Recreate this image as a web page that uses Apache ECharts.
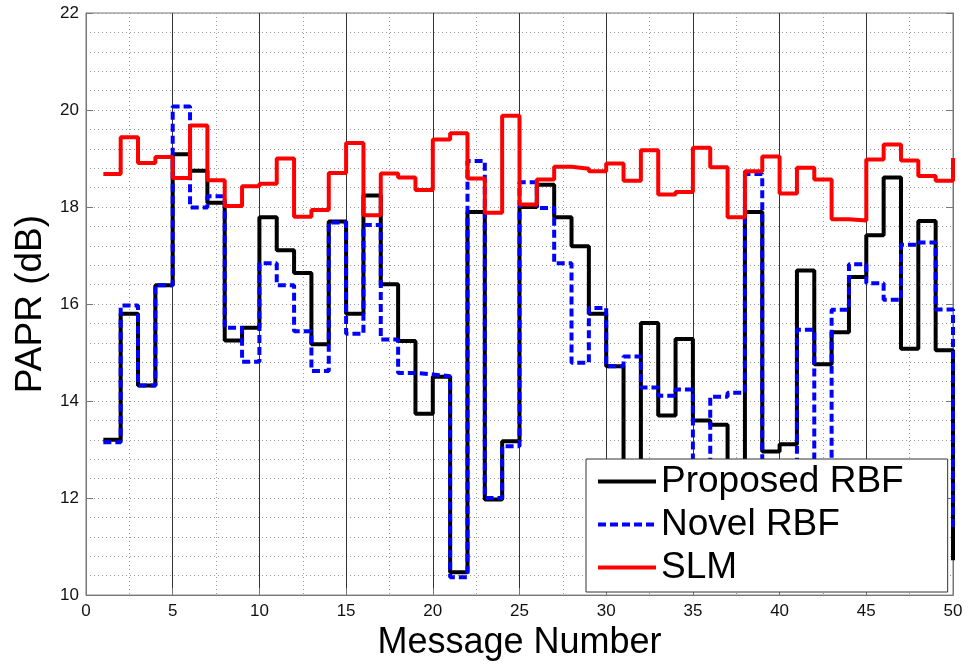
<!DOCTYPE html>
<html>
<head>
<meta charset="utf-8">
<script src="https://cdn.jsdelivr.net/npm/echarts@6/dist/echarts.min.js"></script>
<style>
html,body{margin:0;padding:0;background:#fff;}
#c{width:969px;height:666px;}
</style>
</head>
<body>
<div id="c"></div>
<script>
const messageNumber = [1,2,3,4,5,6,7,8,9,10,11,12,13,14,15,16,17,18,19,20,21,22,23,24,25,26,27,28,29,30,31,32,33,34,35,36,37,38,39,40,41,42,43,44,45,46,47,48,49,50];

const proposedRBF = [13.20,15.80,14.32,16.39,19.09,18.75,18.09,15.25,15.51,17.79,
                     17.11,16.64,15.17,17.70,15.80,18.24,16.41,15.24,13.74,14.50,
                     10.47,17.90,11.97,13.17,18.00,18.46,17.79,17.19,15.80,14.72,
                     12.20,15.61,13.70,15.28,13.60,13.51,12.30,17.90,12.96,13.11,
                     16.69,14.76,15.42,16.56,17.42,18.61,15.08,17.71,15.05,10.72];

const novelRBF = [13.15,15.97,14.32,16.39,20.07,17.99,18.22,15.51,14.81,16.84,
                  16.39,15.44,14.62,17.68,15.39,17.63,15.27,14.58,14.55,14.51,
                  10.37,18.95,12.00,13.07,18.51,17.98,16.84,14.79,15.92,14.72,
                  14.92,14.28,14.11,14.24,12.60,14.09,14.17,18.68,12.50,12.40,
                  15.47,12.20,15.88,16.82,16.43,16.09,17.22,17.27,15.89,11.40];

const slm = [18.68,19.44,18.91,19.03,18.60,19.68,18.55,18.02,18.43,18.48,
             19.00,17.80,17.94,18.70,19.32,17.83,18.69,18.61,18.35,19.39,
             19.52,18.59,17.88,19.88,18.05,18.57,18.83,18.79,18.74,18.90,
             18.54,19.17,18.26,18.31,19.22,18.82,17.79,18.74,19.04,18.28,
             18.81,18.57,17.75,17.72,18.98,19.29,18.96,18.64,18.54,19.01];

const seriesNames = ['Proposed RBF', 'Novel RBF', 'SLM'];
const xAxisTitle = 'Message Number';
const yAxisTitle = 'PAPR (dB)';

function pairs(ys) { return messageNumber.map(function (x, i) { return [x, ys[i]]; }); }

const FONT = '"Liberation Sans", Arial, Helvetica, sans-serif';
const chart = echarts.init(document.getElementById('c'), null, { renderer: 'canvas' });

const option = {
  animation: false,
  backgroundColor: '#ffffff',
  grid: { left: 86, right: 16, top: 13, bottom: 68, show: true, borderColor: '#777', borderWidth: 1 },
  xAxis: {
    type: 'value', min: 0, max: 50, interval: 5,
    name: xAxisTitle, nameLocation: 'middle', nameGap: 24,
    nameTextStyle: { fontFamily: FONT, fontSize: 36, color: '#000' },
    axisLine: { show: true, onZero: false, lineStyle: { color: '#777', width: 1 } },
    axisTick: { show: true, inside: true, length: 7, lineStyle: { color: '#777' } },
    axisLabel: { margin: 8, fontFamily: FONT, fontSize: 17, color: '#111' },
    splitLine: { show: true, lineStyle: { color: '#333', width: 1, type: 'solid' } },
    minorTick: { show: false, splitNumber: 2 },
    minorSplitLine: { show: true, lineStyle: { color: '#999', width: 1, type: [1, 3] } }
  },
  yAxis: [{
    type: 'value', min: 10, max: 22, interval: 2,
    name: yAxisTitle, nameLocation: 'middle', nameGap: 34, nameRotate: 90,
    nameTextStyle: { fontFamily: FONT, fontSize: 37, color: '#000' },
    axisLine: { show: true, onZero: false, lineStyle: { color: '#777', width: 1 } },
    axisTick: { show: true, inside: true, length: 7, lineStyle: { color: '#777' } },
    axisLabel: { margin: 7, fontFamily: FONT, fontSize: 17, color: '#111' },
    splitLine: { show: true, lineStyle: { color: '#999', width: 1, type: [1, 3] } },
    minorTick: { show: false, splitNumber: 5 },
    minorSplitLine: { show: true, lineStyle: { color: '#999', width: 1, type: [1, 3] } }
  }, {
    type: 'value', min: 10, max: 22, interval: 2, position: 'right',
    axisLine: { show: true, onZero: false, lineStyle: { color: '#777', width: 1 } },
    axisTick: { show: true, inside: true, length: 7, lineStyle: { color: '#777' } },
    axisLabel: { show: false },
    splitLine: { show: false }
  }],
  legend: {
    orient: 'vertical', left: 586, top: 459,
    backgroundColor: '#ffffff', borderColor: '#333', borderWidth: 1,
    padding: [4, 44, 6, 10],
    itemWidth: 58, itemHeight: 14, itemGap: 6,
    itemStyle: { opacity: 0 },
    lineStyle: { width: 4 },
    textStyle: { fontFamily: FONT, fontSize: 37, color: '#000', lineHeight: 37 },
    data: seriesNames, z: 10
  },
  series: [{
    name: seriesNames[0], type: 'line', step: 'end', data: pairs(proposedRBF),
    symbol: 'none', showSymbol: false,
    lineStyle: { color: '#000000', width: 4 }, itemStyle: { color: '#000000' }, z: 2
  }, {
    name: seriesNames[1], type: 'line', step: 'end', data: pairs(novelRBF),
    symbol: 'none', showSymbol: false,
    lineStyle: { color: '#0000ff', width: 4, type: [8, 4] }, itemStyle: { color: '#0000ff' }, z: 3
  }, {
    name: seriesNames[2], type: 'line', step: 'end', data: pairs(slm),
    symbol: 'none', showSymbol: false,
    lineStyle: { color: '#ff0000', width: 4 }, itemStyle: { color: '#ff0000' }, z: 4
  }]
};
chart.setOption(option);
</script>
</body>
</html>
